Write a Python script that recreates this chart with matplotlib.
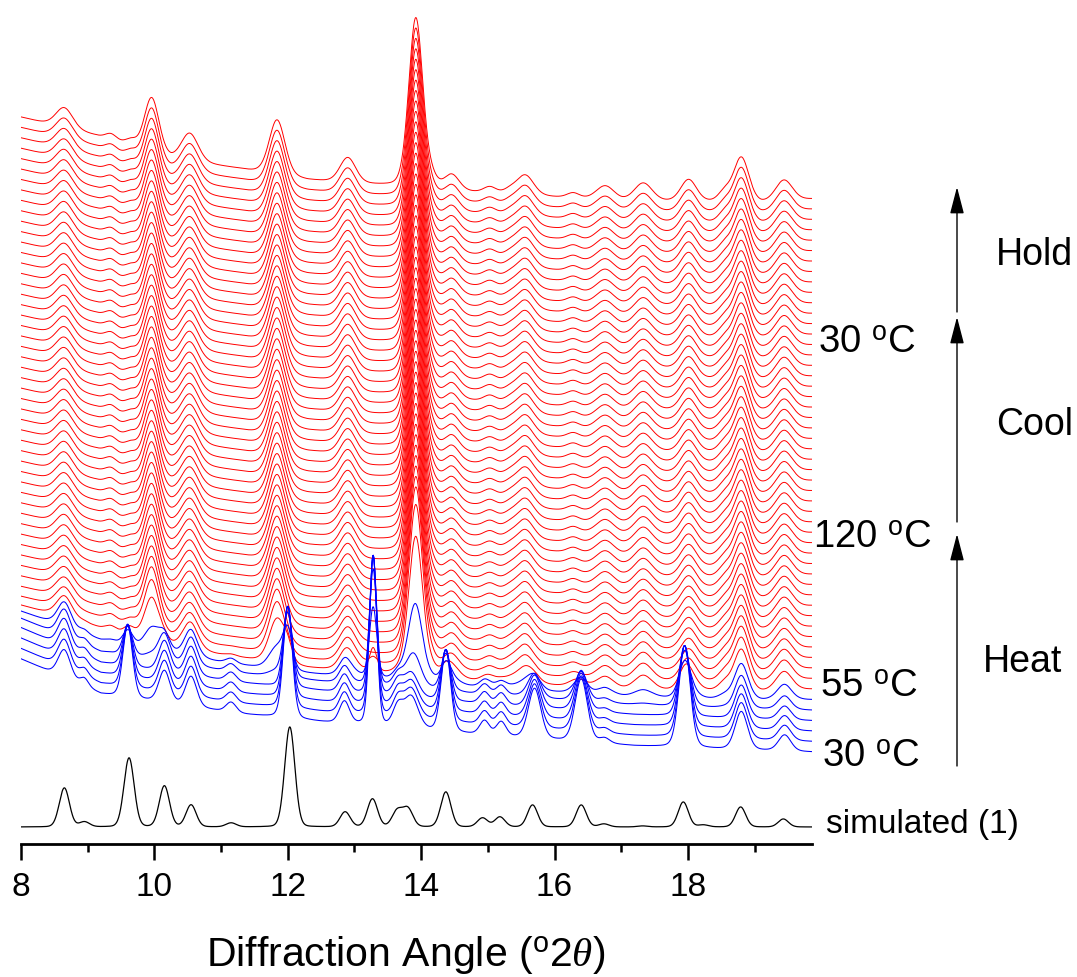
import numpy as np
import matplotlib
matplotlib.use("Agg")
import matplotlib.pyplot as plt

plt.rcParams['font.family'] = ['Liberation Sans', 'DejaVu Sans']
plt.rcParams['mathtext.fontset'] = 'custom'
plt.rcParams['mathtext.rm'] = 'Liberation Sans'
plt.rcParams['mathtext.it'] = 'Liberation Serif:italic'
plt.rcParams['mathtext.bf'] = 'Liberation Sans:bold'

# ------------------------------------------------------------------ data
x_major_ticks = [8, 10, 12, 14, 16, 18]
x_minor_ticks = [9, 11, 13, 15, 17, 19]
x_min, x_max = 8.0, 19.86

# simulated pattern (1)
sim_pos = [8.65, 8.95, 9.62, 10.15, 10.55, 11.15, 12.03, 12.86, 13.27, 13.64, 13.80,
           14.37, 14.92, 15.18, 15.67, 16.40, 16.74, 17.32, 17.93, 18.23, 18.79, 19.43]
sim_height = [39, 5, 69, 41, 22, 4, 100, 15, 28, 16, 18,
              35, 9, 10, 22, 22, 3, 1, 25, 2, 20, 8]
sim_fwhm = 0.18

# low-temperature phase (blue scans): heights at 30 C and at 55 C
blue_pos = [8.65, 8.95, 9.60, 10.15, 10.55, 11.15, 12.00, 12.85, 13.28, 13.65, 13.85,
            14.37, 14.95, 15.20, 15.70, 16.40, 16.75, 17.95, 18.80, 19.45]
blue_h30 = [28, 8, 72, 32, 30, 10, 112, 22, 170, 20, 32,
            82, 14, 14, 50, 63, 5, 102, 38, 16]
blue_h55 = [28, 6, 22, 30, 28, 8, 60, 15, 118, 12, 20,
            30, 10, 10, 20, 25, 3, 50, 30, 12]
blue_fwhm = [0.22, 0.15, 0.17, 0.2, 0.2, 0.18, 0.16, 0.18, 0.13, 0.18, 0.25,
             0.17, 0.17, 0.17, 0.22, 0.22, 0.18, 0.2, 0.22, 0.22]
blue_bg_x = [8.0, 9.2, 11.3, 12.5, 14.7, 17.2, 18.4, 19.86]
blue_bg_y = [93, 58, 38, 30, 18, 6, 3, 0]

# high-temperature phase (red scans)
red_pos = [8.65, 9.35, 9.65, 9.96, 10.53, 11.84, 12.90, 13.92, 14.16, 14.46, 15.03,
           15.33, 15.56, 16.28, 16.76, 17.33, 18.01, 18.55, 18.80, 19.44]
red_height = [20, 6, 6, 55, 28, 55, 25, 170, 8, 15, 6,
              4, 20, 5, 14, 18, 22, 10, 45, 21]
red_fwhm = [0.3, 0.2, 0.2, 0.26, 0.3, 0.28, 0.28, 0.25, 0.2, 0.26, 0.22,
            0.22, 0.3, 0.22, 0.32, 0.32, 0.28, 0.22, 0.27, 0.3]
red_bg_x = [8.0, 9.1, 10.25, 11.2, 12.3, 13.3, 14.7, 16.0, 17.0, 18.3, 19.1, 19.86]
red_bg_y = [82, 64, 40, 31, 19, 14, 7, 2, -2, -3, -4, 0]

# scan composition (bottom -> top): 6 blue heating scans, 48 red scans
scan_is_blue = [True] * 6 + [False] * 48
scan_blue_mix = [0.0, 0.2, 0.4, 0.6, 0.8, 1.0] + [1.0] * 48   # 30 C -> 55 C heights
scan_blue_frac = [1, 1, 1, 1, 0.9, 0.6, 0.2, 0.05] + [0] * 46
scan_red_frac = [0, 0, 0, 0, 0.1, 0.4, 0.8, 0.95] + [1.0] * 46

# annotation labels: (text, x px, baseline y px)
temp_labels = [("30 $^{\\mathrm{o}}$C", 822, 767),
               ("55 $^{\\mathrm{o}}$C", 820, 697),
               ("120 $^{\\mathrm{o}}$C", 813, 548),
               ("30 $^{\\mathrm{o}}$C", 818, 353)]
stage_labels = [("Heat", 983, 672), ("Cool", 996, 435), ("Hold", 996, 265)]
arrow_segments = [(767, 535), (523, 318), (313, 188)]   # (from y px, tip y px)

# ------------------------------------------------------------------ helpers
W, H = 1077, 978
sim_base = 17
first_offset = 92
offset_step = 10.43


def pv(x, x0, fwhm, eta=0.25):
    d2 = 4.0 * (x - x0) ** 2 / fwhm ** 2
    return (1 - eta) * np.exp(-np.log(2) * d2) + eta / (1 + d2)


def pattern(x, pos, hts, fw, eta=0.25):
    y = np.zeros_like(x)
    for p, h, f in zip(pos, hts, fw):
        y += h * pv(x, p, f, eta)
    return y


x = np.linspace(x_min, x_max, 2400)

fig = plt.figure(figsize=(W / 100, H / 100), dpi=100)
ax = fig.add_axes([21 / W, (H - 845) / H, (812 - 21) / W, 845 / H])
ax.set_xlim(x_min, x_max)
ax.set_ylim(0, 845)

# simulated
sim_y = sim_base + pattern(x, sim_pos, sim_height, [sim_fwhm] * len(sim_pos), eta=0.1)
ax.plot(x, sim_y, color='black', lw=0.9, zorder=3)

red_pat = pattern(x, red_pos, red_height, red_fwhm, eta=0.2)
red_bg = np.interp(x, red_bg_x, red_bg_y)
blue_bg = np.interp(x, blue_bg_x, blue_bg_y)
blue30 = pattern(x, blue_pos, blue_h30, blue_fwhm, eta=0.2)
blue55 = pattern(x, blue_pos, blue_h55, blue_fwhm, eta=0.2)

for i, is_blue in enumerate(scan_is_blue):
    m = scan_blue_mix[i]
    bf = scan_blue_frac[i]
    rf = scan_red_frac[i]
    bpat = (1 - m) * blue30 + m * blue55
    bg = (bf * blue_bg + rf * red_bg) / (bf + rf)
    y = first_offset + i * offset_step + bg + bf * bpat + rf * red_pat
    if is_blue:
        ax.plot(x, y, color='#0000ff', lw=0.75, zorder=2)
    else:
        ax.plot(x, y, color='#ff0000', lw=0.7, zorder=1 + i * 0.001)

# axes styling
for s in ['left', 'right', 'top']:
    ax.spines[s].set_visible(False)
ax.spines['bottom'].set_linewidth(2.0)
ax.set_yticks([])
ax.set_xticks(x_major_ticks)
ax.set_xticks(x_minor_ticks, minor=True)
ax.tick_params(axis='x', which='major', direction='out', length=11.5, width=1.8,
               labelsize=24, pad=8)
ax.tick_params(axis='x', which='minor', direction='out', length=6, width=1.8)
ax.set_xlabel("Diffraction Angle ($^{\\mathrm{o}}$2$\\theta$)", fontsize=29.5)
ax.xaxis.set_label_coords((406 - 21) / 791, -(934 - 845) / 845)
ax.xaxis.label.set_va('top')

# right-hand labels
for txt, px, py in temp_labels:
    fig.text(px / W, 1 - py / H, txt, fontsize=27.5, ha='left', va='baseline')
fig.text(826 / W, 1 - 833 / H, "simulated (1)", fontsize=24, ha='left', va='baseline')
for txt, px, py in stage_labels:
    fig.text(px / W, 1 - py / H, txt, fontsize=27, ha='left', va='baseline')

for y0, y1 in arrow_segments:
    ax.annotate('', xy=(957, H - y1), xytext=(957, H - y0),
                xycoords='figure pixels', textcoords='figure pixels',
                arrowprops=dict(arrowstyle='-|>,head_length=1.65,head_width=0.43',
                                mutation_scale=10, lw=1.0, color='black',
                                shrinkA=0, shrinkB=0),
                annotation_clip=False)

fig.savefig("out.png", dpi=100)
